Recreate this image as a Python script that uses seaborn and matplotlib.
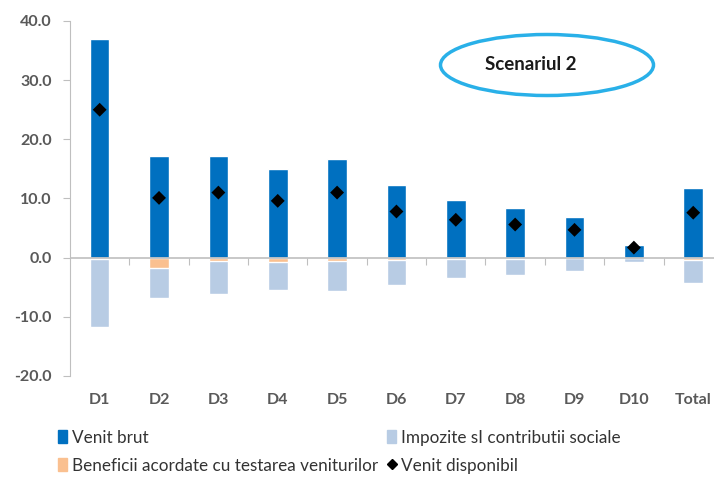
import matplotlib
matplotlib.use("Agg")
import matplotlib.pyplot as plt
from matplotlib.patches import Ellipse, Patch
from matplotlib.lines import Line2D
import seaborn as sns
import pandas as pd

categorii = ["D1", "D2", "D3", "D4", "D5", "D6", "D7", "D8", "D9", "D10", "Total"]
venit_brut = [37.0, 17.1, 17.2, 15.0, 16.7, 12.3, 9.8, 8.4, 6.9, 2.2, 11.8]
impozite = [-11.6, -5.2, -5.6, -4.6, -5.2, -4.2, -3.2, -2.7, -2.1, -0.7, -3.8]
beneficii = [-0.2, -1.7, -0.5, -0.8, -0.5, -0.4, -0.2, -0.2, -0.1, -0.1, -0.4]
venit_disponibil = [25.0, 10.1, 11.0, 9.6, 11.0, 7.8, 6.4, 5.6, 4.7, 1.7, 7.6]

c_brut = "#0070C0"
c_imp = "#B8CCE4"
c_ben = "#FAC090"

df = pd.DataFrame({
    "decila": categorii,
    "brut": venit_brut,
    "imp": impozite,
    "ben": beneficii,
    "disp": venit_disponibil,
})
# impozitele sunt stivuite sub beneficii
df["imp_total"] = df["imp"] + df["ben"]

sns.set_style("white")
plt.rcParams["font.family"] = ["Lato", "DejaVu Sans"]

fig = plt.figure(figsize=(7.14, 4.78), dpi=100)
ax = fig.add_axes([70 / 714, 0.2134, 644 / 714, 0.7427])

w = 0.33
sns.barplot(data=df, x="decila", y="brut", color=c_brut, width=w, ax=ax,
            saturation=1, errorbar=None)
sns.barplot(data=df, x="decila", y="imp_total", color=c_imp, width=w, ax=ax,
            saturation=1, errorbar=None)
sns.barplot(data=df, x="decila", y="ben", color=c_ben, width=w, ax=ax,
            saturation=1, errorbar=None)
sns.scatterplot(data=df, x="decila", y="disp", marker="D", color="black",
                s=50, edgecolor="none", ax=ax, zorder=5)

ax.set_xlim(-0.5, 10.35)
ax.set_ylim(-20, 40)
ax.set_yticks(range(-20, 41, 10))
ax.set_yticklabels([f"{v:.1f}" for v in range(-20, 41, 10)])
ax.set_xlabel("")
ax.set_ylabel("")

for s in ["top", "right", "bottom"]:
    ax.spines[s].set_visible(False)
ax.spines["left"].set_color("#BFBFBF")
ax.tick_params(axis="y", left=True, length=5, color="#BFBFBF",
               labelsize=11.5, labelcolor="#595959", pad=8)
ax.tick_params(axis="x", bottom=False, length=0, labelsize=11.5,
               labelcolor="#595959", pad=12)
for lab in ax.get_xticklabels() + ax.get_yticklabels():
    lab.set_fontweight("bold")

# linia de zero cu marcaje intre categorii
ax.axhline(0, color="#BFBFBF", lw=1.2, zorder=1)
sec = ax.secondary_xaxis(20 / 60)
sec.set_xticks([i + 0.5 for i in range(len(categorii) - 1)])
sec.set_xticklabels([])
sec.tick_params(axis="x", length=5, color="#BFBFBF", direction="out")
sec.spines["bottom"].set_visible(False)

# eticheta scenariului
ell = Ellipse((547 / 714, 1 - 65 / 478), 213 / 714, 61 / 478,
              transform=fig.transFigure, fill=False, edgecolor="#29B0E8",
              lw=2.5)
fig.add_artist(ell)
fig.text(531 / 714, 1 - 65 / 478, "Scenariul 2", ha="center", va="center",
         fontsize=13.5, fontweight="bold", color="#1a1a1a")

handles = [
    Patch(color=c_brut, label="Venit brut"),
    Patch(color=c_ben, label="Beneficii acordate cu testarea veniturilor"),
    Patch(color=c_imp, label="Impozite sI contributii sociale"),
    Line2D([], [], marker="D", color="black", ls="none", markersize=5,
           label="Venit disponibil"),
]
fig.legend(handles=handles, ncol=2, loc="upper left",
           bbox_to_anchor=(44 / 714, 1 - 416 / 478), frameon=False,
           fontsize=12.3, handlelength=0.55, handleheight=0.8, handletextpad=0.3,
           columnspacing=0.5, labelspacing=0.7, labelcolor="#333333",
           borderpad=0.3)

fig.savefig("out.png", dpi=100)
